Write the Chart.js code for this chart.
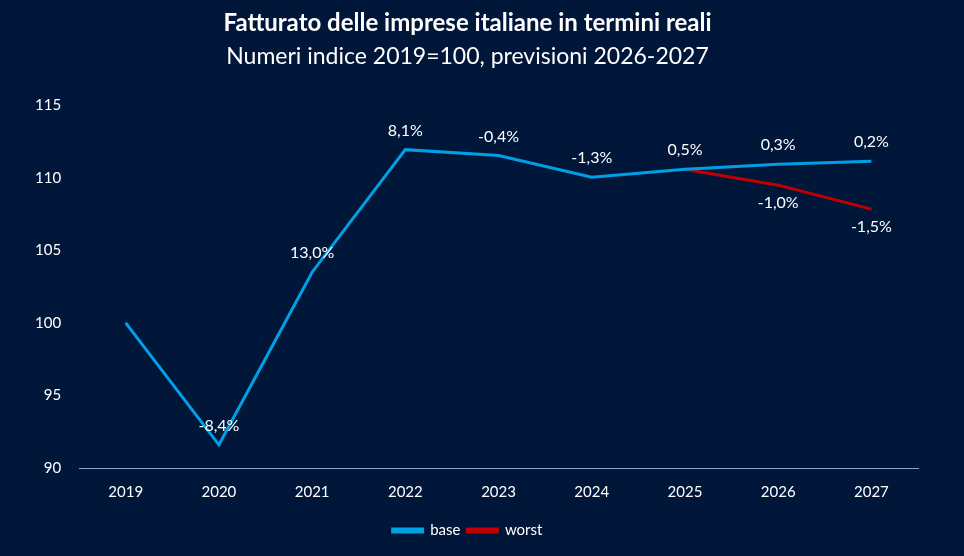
<!DOCTYPE html>
<html>
<head>
<meta charset="utf-8">
<script src="https://cdn.jsdelivr.net/npm/chart.js@4"></script>
<style>
  html, body { margin: 0; padding: 0; background: #00173a; }
  #wrap { width: 964px; height: 556px; }
</style>
</head>
<body>
<div id="wrap"><canvas id="c"></canvas></div>
<script>
var years = ['2019', '2020', '2021', '2022', '2023', '2024', '2025', '2026', '2027'];
var baseValues = [100, 91.6, 103.5, 111.95, 111.55, 110.05, 110.6, 110.95, 111.15];
var worstValues = [null, null, null, null, null, null, 110.6, 109.5, 107.85];
var baseLabels = ['', '-8,4%', '13,0%', '8,1%', '-0,4%', '-1,3%', '0,5%', '0,3%', '0,2%'];
var worstLabels = ['', '', '', '', '', '', '', '-1,0%', '-1,5%'];
var yTicks = [90, 95, 100, 105, 110, 115];

var FONT = 'Lato, "Noto Sans", sans-serif';

// draws the % change next to each point: base above, worst below
var pointLabels = {
    id: 'pointLabels',
    afterDatasetsDraw: function(chart) {
        var ctx = chart.ctx;
        ctx.save();
        ctx.fillStyle = '#ffffff';
        ctx.font = '16px ' + FONT;
        ctx.textAlign = 'center';
        ctx.textBaseline = 'middle';
        var sets = [[0, baseLabels, -19], [1, worstLabels, 18]];
        for (var s = 0; s < sets.length; s++) {
            var meta = chart.getDatasetMeta(sets[s][0]);
            for (var i = 0; i < meta.data.length; i++) {
                var txt = sets[s][1][i];
                if (!txt) continue;
                var p = meta.data[i];
                ctx.fillText(txt, p.x, p.y + sets[s][2]);
            }
        }
        ctx.restore();
    }
};

new Chart(document.getElementById('c'), {
    type: 'line',
    data: {
        labels: years,
        datasets: [{
            label: 'base',
            data: baseValues,
            borderColor: '#00a0e6',
            backgroundColor: '#00a0e6',
            borderWidth: 3,
            pointRadius: 0,
            tension: 0
        }, {
            label: 'worst',
            data: worstValues,
            borderColor: '#c00000',
            backgroundColor: '#c00000',
            borderWidth: 3,
            pointRadius: 0,
            tension: 0
        }]
    },
    options: {
        responsive: true,
        maintainAspectRatio: false,
        animation: false,
        layout: { padding: { left: 17, right: 46, top: 0, bottom: 8 } },
        scales: {
            x: {
                offset: true,
                grid: { display: false, drawTicks: false },
                border: { display: true, color: '#8ea3c9', width: 1 },
                ticks: { color: '#ffffff', font: { family: FONT, size: 15 }, padding: 15 }
            },
            y: {
                min: 90,
                max: 115,
                afterBuildTicks: function(axis) {
                    axis.ticks = yTicks.map(function(v) { return { value: v }; });
                },
                grid: { display: false, drawTicks: false },
                border: { display: false },
                ticks: { color: '#ffffff', font: { family: FONT, size: 15 }, padding: 18 }
            }
        },
        plugins: {
            title: {
                display: true,
                text: 'Fatturato delle imprese italiane in termini reali',
                color: '#ffffff',
                font: { family: FONT, size: 24, weight: 'bold' },
                padding: { top: 9, bottom: 5 }
            },
            subtitle: {
                display: true,
                text: 'Numeri indice 2019=100, previsioni 2026-2027',
                color: '#ffffff',
                font: { family: FONT, size: 23 },
                padding: { bottom: 35 }
            },
            legend: {
                position: 'bottom',
                labels: {
                    color: '#ffffff',
                    font: { family: FONT, size: 15 },
                    boxWidth: 30,
                    boxHeight: 3,
                    padding: 7
                }
            },
            tooltip: { enabled: false }
        }
    },
    plugins: [pointLabels]
});
</script>
</body>
</html>
